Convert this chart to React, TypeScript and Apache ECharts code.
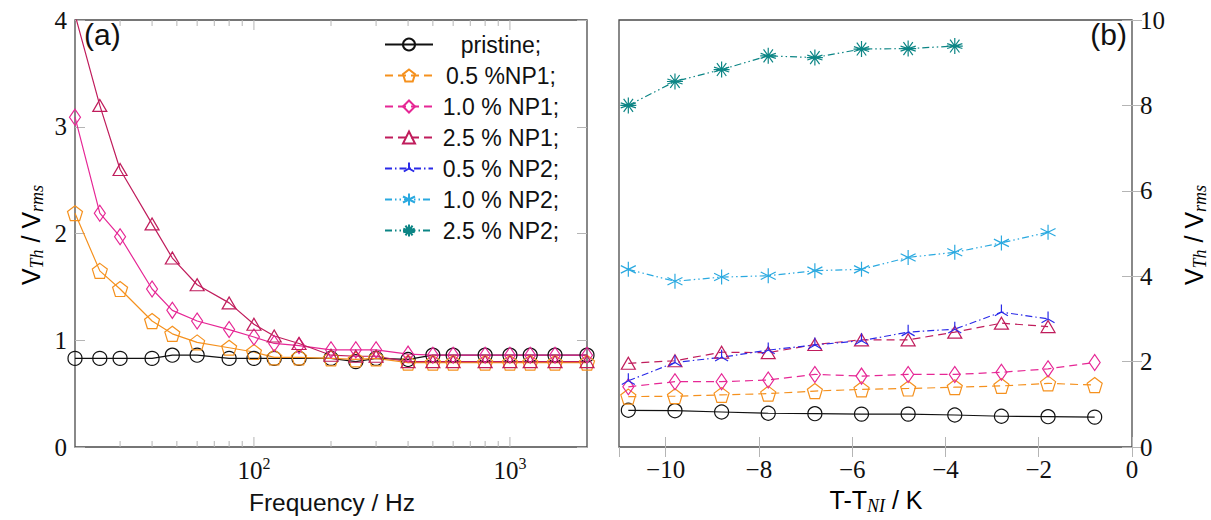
import React, { useEffect, useRef } from 'react';
import * as echarts from 'echarts';

// ---------- data ----------
const freqHz = [20, 25, 30, 40, 48, 60, 80, 100, 120, 150, 200, 250, 300, 400, 500, 600, 800, 1000, 1200, 1500, 2000];
const aPristine = [0.83, 0.83, 0.83, 0.83, 0.86, 0.86, 0.83, 0.83, 0.83, 0.83, 0.83, 0.8, 0.83, 0.82, 0.86, 0.86, 0.86, 0.86, 0.86, 0.86, 0.86];
const aNP1_05 = [2.19, 1.65, 1.48, 1.18, 1.06, 0.98, 0.93, 0.89, 0.84, 0.84, 0.83, 0.82, 0.83, 0.79, 0.79, 0.79, 0.79, 0.79, 0.79, 0.79, 0.79];
const aNP1_10 = [3.09, 2.19, 1.97, 1.48, 1.28, 1.18, 1.1, 1.03, 0.97, 0.95, 0.91, 0.91, 0.91, 0.87, 0.86, 0.86, 0.86, 0.86, 0.86, 0.86, 0.86];
const aNP1_25 = [4.05, 3.2, 2.6, 2.09, 1.77, 1.52, 1.35, 1.15, 1.04, 0.97, 0.86, 0.85, 0.85, 0.8, 0.8, 0.8, 0.8, 0.8, 0.8, 0.8, 0.8];

const tempK = [-10.8, -9.8, -8.8, -7.8, -6.8, -5.8, -4.8, -3.8, -2.8, -1.8, -0.8];
const bPristine = [0.86, 0.85, 0.82, 0.79, 0.78, 0.77, 0.77, 0.75, 0.72, 0.71, 0.7];
const bNP1_05 = [1.18, 1.19, 1.22, 1.25, 1.31, 1.35, 1.37, 1.4, 1.43, 1.49, 1.45];
const bNP1_10 = [1.41, 1.53, 1.53, 1.57, 1.7, 1.66, 1.7, 1.7, 1.75, 1.83, 1.98];
const bNP1_25 = [1.96, 2.02, 2.22, 2.21, 2.4, 2.51, 2.51, 2.69, 2.9, 2.82];
const bNP2_05 = [1.55, 1.98, 2.1, 2.27, 2.39, 2.49, 2.69, 2.76, 3.16, 3.0];
const bNP2_10 = [4.16, 3.88, 3.98, 4.01, 4.13, 4.16, 4.44, 4.56, 4.78, 5.03];
const bNP2_25 = [8.0, 8.56, 8.84, 9.16, 9.12, 9.32, 9.33, 9.39];

const seriesNames = ['pristine;', '0.5 %NP1;', '1.0 % NP1;', '2.5 % NP1;', '0.5 % NP2;', '1.0 % NP2;', '2.5 % NP2;'];
const minorFreqTicks = [30, 40, 50, 60, 70, 80, 90, 200, 300, 400, 500, 600, 700, 800, 900];
const majorFreqTicks = [100, 1000];

// ---------- styles ----------
const COLORS = ['#111111', '#f5911e', '#e62795', '#c01d5c', '#2a2ae8', '#2aa9e0', '#0c8585'];
const SYM_PENT = 'path://M0,-1L0.951,-0.309L0.588,0.809L-0.588,0.809L-0.951,-0.309Z';
const SYM_TRI = 'path://M0,0L0,-1M0,0L0.866,0.5M0,0L-0.866,0.5M-1,-1M1,1';
const SYM_AST = 'path://M0,-1L0,1M-0.866,-0.5L0.866,0.5M-0.866,0.5L0.866,-0.5';
const SYM_STAR =
  'path://M0,-1L0,1M-0.588,0.809L0.588,-0.809M-0.951,0.309L0.951,-0.309M0.951,0.309L-0.951,-0.309M0.588,0.809L-0.588,-0.809M-1,0L1,0';
const SYMBOLS: any[] = ['circle', SYM_PENT, 'diamond', 'triangle', SYM_TRI, SYM_AST, SYM_STAR];
const SIZES: any[] = [14, 15, [11, 16], [14, 12], 15, 15, 16];
const DASHES: any[] = ['solid', [8, 5], [8, 5], [8, 5], [7, 3, 1.5, 3], [7, 3, 1.5, 3, 1.5, 3], [7, 3, 1.5, 3, 1.5, 3]];

const SERIF = 'Liberation Serif';
const SANS = 'Liberation Sans';
const TICK = '#b5b5b5';
const BORDER = '#4a4a4a';

export default function App() {
  const ref = useRef<HTMLDivElement>(null);
  useEffect(() => {
    document.body.style.margin = '0';
    const chart = echarts.init(ref.current!, null, { renderer: 'svg' });

    const mk = (i: number, xi: number, yi: number, xs: number[], ys: number[], dashed: boolean) => ({
      type: 'line',
      name: seriesNames[i],
      xAxisIndex: xi,
      yAxisIndex: yi,
      data: ys.map((v, k) => [xs[k], v]),
      symbol: SYMBOLS[i],
      symbolSize: SIZES[i],
      showAllSymbol: true,
      itemStyle: { color: 'transparent', borderColor: COLORS[i], borderWidth: 1.2 },
      lineStyle: { color: COLORS[i], width: 1.2, type: dashed ? DASHES[i] : 'solid' },
      emphasis: { disabled: true },
      z: 3,
    });

    const bData = [bPristine, bNP1_05, bNP1_10, bNP1_25, bNP2_05, bNP2_10, bNP2_25];
    const bSeries = bData.map((ys, i) => mk(i, 1, 2, tempK, ys, true));
    const aData = [aPristine, aNP1_05, aNP1_10, aNP1_25];
    const aSeries = aData.map((ys, i) => mk(i, 0, 0, freqHz, ys, false));

    const tickSeries = {
      type: 'custom',
      xAxisIndex: 0,
      yAxisIndex: 0,
      silent: true,
      clip: false,
      z: 1,
      data: [
        ...minorFreqTicks.map((v) => [v, 6, 1]),
        ...majorFreqTicks.map((v) => [v, 10, 1]),
      ],
      encode: { x: 0, y: 2 },
      renderItem: (params: any, api: any) => {
        const x = api.coord([api.value(0), 1])[0];
        const len = api.value(1);
        const cs = params.coordSys;
        const bottom = cs.y + cs.height;
        const top = cs.y;
        return {
          type: 'group',
          children: [
            { type: 'line', shape: { x1: x, y1: bottom, x2: x, y2: bottom - len }, style: { stroke: TICK, lineWidth: 1 } },
            { type: 'line', shape: { x1: x, y1: top, x2: x, y2: top + len }, style: { stroke: TICK, lineWidth: 1 } },
          ],
        };
      },
    };

    const yTick = { show: true, inside: true, length: 10, lineStyle: { color: TICK, width: 1 } };
    const noLine = { show: false };
    const numFmt = (v: number) => (v < 0 ? '\u2212' + Math.abs(v) : String(v));
    const numLabel = { fontFamily: SERIF, fontSize: 25, color: '#111' };

    const labelRich = {
      t: { fontFamily: SANS, fontSize: 25, lineHeight: 30, color: '#111' },
      sub: { fontFamily: SERIF, fontStyle: 'italic', fontSize: 18, lineHeight: 17, verticalAlign: 'bottom', color: '#111' },
    };

    const option: any = {
      animation: false,
      backgroundColor: '#fff',
      grid: [
        { left: 75, top: 20, width: 512, height: 427, show: true, borderColor: BORDER, borderWidth: 1.3, backgroundColor: 'transparent', outerBoundsMode: 'none', containLabel: false },
        { left: 619, top: 20, width: 513, height: 427, show: true, borderColor: BORDER, borderWidth: 1.3, backgroundColor: 'transparent', outerBoundsMode: 'none', containLabel: false },
      ],
      xAxis: [
        {
          type: 'log', logBase: 10, gridIndex: 0, min: 20, max: 2000,
          axisLine: noLine, axisTick: { show: false }, splitLine: { show: false }, minorTick: { show: false },
          axisLabel: {
            showMinLabel: false, showMaxLabel: false, margin: 8,
            fontFamily: SERIF,
            formatter: (v: number) => `{b|10}{s|${Math.round(Math.log10(v))}}`,
            rich: {
              b: { fontFamily: SERIF, fontSize: 25, lineHeight: 30, color: '#111' },
              s: { fontFamily: SERIF, fontSize: 16, lineHeight: 16, verticalAlign: 'top', color: '#111' },
            },
          },
        },
        {
          type: 'value', gridIndex: 1, min: -11, max: 0, splitNumber: 5,
          axisLine: noLine, splitLine: { show: false },
          axisTick: { show: true, inside: true, length: 10, lineStyle: { color: TICK, width: 1 } },
          axisLabel: { ...numLabel, margin: 10, showMinLabel: false, formatter: numFmt },
        },
        {
          type: 'value', gridIndex: 1, min: -11, max: 0, splitNumber: 5, position: 'top',
          axisLine: noLine, splitLine: { show: false },
          axisTick: { show: true, inside: true, length: 10, lineStyle: { color: TICK, width: 1 } },
          axisLabel: { show: false },
        },
      ],
      yAxis: [
        {
          type: 'value', gridIndex: 0, min: 0, max: 4, interval: 1, position: 'left',
          axisLine: noLine, splitLine: { show: false }, axisTick: yTick,
          axisLabel: { ...numLabel, margin: 8, formatter: numFmt },
        },
        {
          type: 'value', gridIndex: 0, min: 0, max: 4, interval: 1, position: 'right',
          axisLine: noLine, splitLine: { show: false }, axisTick: yTick, axisLabel: { show: false },
        },
        {
          type: 'value', gridIndex: 1, min: 0, max: 10, interval: 2, position: 'right',
          axisLine: noLine, splitLine: { show: false }, axisTick: yTick,
          axisLabel: { ...numLabel, margin: 8, formatter: numFmt },
        },
        {
          type: 'value', gridIndex: 1, min: 0, max: 10, interval: 2, position: 'left',
          axisLine: noLine, splitLine: { show: false }, axisTick: yTick, axisLabel: { show: false },
        },
      ],
      legend: {
        data: seriesNames,
        orient: 'vertical',
        left: 384,
        top: 33,
        padding: 0,
        itemWidth: 48,
        itemHeight: 15,
        itemGap: 8,
        selectedMode: false,
        formatter: (n: string) => `{c|${n}}`,
        textStyle: {
          fontFamily: SANS,
          rich: { c: { width: 126, align: 'center', fontFamily: SANS, fontSize: 23, lineHeight: 24, color: '#111' } },
        },
      },
      graphic: [
        { type: 'text', left: 84, top: 19, style: { text: '(a)', fontFamily: SANS, fontSize: 30, fill: '#111' }, z: 10 },
        { type: 'text', right: 1211 - 1127, top: 19, style: { text: '(b)', fontFamily: SANS, fontSize: 30, fill: '#111' }, z: 10 },
        {
          type: 'text', x: 31, y: 235, rotation: Math.PI / 2,
          style: { text: '{t|V}{sub|Th}{t| / V}{sub|rms}', rich: labelRich, align: 'center', verticalAlign: 'middle' },
        },
        {
          type: 'text', x: 1194, y: 235, rotation: Math.PI / 2,
          style: { text: '{t|V}{sub|Th}{t| / V}{sub|rms}', rich: labelRich, align: 'center', verticalAlign: 'middle' },
        },
        {
          type: 'text', x: 332, y: 502,
          style: { text: 'Frequency / Hz', fontFamily: SANS, fontSize: 24.5, fill: '#111', align: 'center', verticalAlign: 'middle' },
        },
        {
          type: 'text', x: 876, y: 500,
          style: { text: '{t|T-T}{sub|NI}{t| / K}', rich: labelRich, align: 'center', verticalAlign: 'middle' },
        },
      ],
      series: [...bSeries, ...aSeries, tickSeries],
    };

    chart.setOption(option);
    return () => chart.dispose();
  }, []);
  return <div ref={ref} style={{ width: 1211, height: 520 }} />;
}
